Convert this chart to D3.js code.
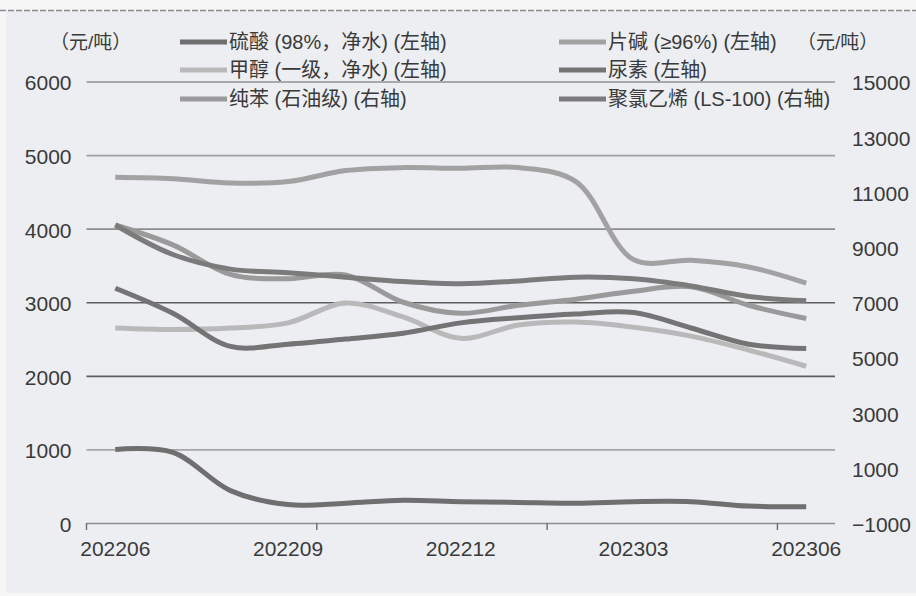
<!DOCTYPE html>
<html>
<head>
<meta charset="utf-8">
<script src="https://cdn.jsdelivr.net/npm/d3@7/dist/d3.min.js"></script>
<style>
  html, body { margin: 0; padding: 0; background: #ffffff; }
  svg { display: block; }
  text { font-family: "Liberation Sans", Arial, "Noto Sans CJK SC", sans-serif; fill: #3a3a3a; }
</style>
</head>
<body>
<svg id="chart" width="916" height="596"></svg>
<script>
// Monthly prices, 2022-06 to 2023-06 (元/吨)
const months = ["202206","202207","202208","202209","202210","202211","202212",
                "202301","202302","202303","202304","202305","202306"];
const monthTickLabels = ["202206","202209","202212","202303","202306"];

// left-axis series
const sulfuricAcid = [1000, 960, 440, 250, 270, 310, 290, 280, 270, 290, 290, 230, 220];
const methanol     = [2650, 2630, 2650, 2720, 2990, 2800, 2510, 2690, 2730, 2660, 2540, 2350, 2130];
const causticSoda  = [4700, 4680, 4620, 4640, 4790, 4830, 4820, 4830, 4640, 3580, 3570, 3480, 3260];
const urea         = [3190, 2850, 2400, 2430, 2500, 2580, 2720, 2790, 2840, 2860, 2650, 2430, 2370];
// right-axis series
const benzene      = [9800, 9080, 8010, 7850, 7990, 7000, 6600, 6890, 7110, 7400, 7560, 6890, 6410];
const pvc          = [9800, 8730, 8200, 8070, 7910, 7750, 7670, 7770, 7910, 7850, 7590, 7210, 7050];

const leftTicks  = [0, 1000, 2000, 3000, 4000, 5000, 6000];
const rightTicks = [-1000, 1000, 3000, 5000, 7000, 9000, 11000, 13000, 15000];

const seriesNames = [
  "硫酸 (98%，净水) (左轴)",
  "片碱 (≥96%) (左轴)",
  "甲醇 (一级，净水) (左轴)",
  "尿素 (左轴)",
  "纯苯 (石油级) (右轴)",
  "聚氯乙烯 (LS-100) (右轴)"
];
const seriesValues = [sulfuricAcid, causticSoda, methanol, urea, benzene, pvc];
const seriesAxis   = ["L", "L", "L", "L", "R", "R"];
const seriesColors = ["#6f6f6f", "#a2a2a2", "#b9b9b9", "#747474", "#9a9a9a", "#7b7b7b"];

// printed gridline shades, bottom to top
const gridShades = ["#8e8e8e", "#a6a6a6", "#5e5e5e", "#5e5e5e", "#8c8c8c", "#a0a0a0", "#909090"];

const svg = d3.select("#chart");

// page background
svg.append("rect").attr("x", 0).attr("y", 0).attr("width", 916).attr("height", 596).attr("fill", "#f6f6f7");
svg.append("rect").attr("x", 6).attr("y", 11).attr("width", 910).attr("height", 582)
   .attr("fill", "#eceef2");
svg.append("line").attr("x1", 0).attr("x2", 916).attr("y1", 10.5).attr("y2", 10.5)
   .attr("stroke", "#8a8a8a").attr("stroke-width", 1.5).attr("stroke-dasharray", "6,2");

const plotLeft = 86.5, plotRight = 835, plotTop = 81.5, plotBottom = 523;

const x = d3.scaleBand().domain(months).range([plotLeft, plotRight]).padding(0);
const cx = d => x(d) + x.bandwidth() / 2;
const yL = d3.scaleLinear().domain([0, 6000]).range([plotBottom, plotTop]);
const yR = d3.scaleLinear().domain([-1000, 15000]).range([plotBottom, plotTop]);

// left axis with gridlines
const gL = svg.append("g").attr("transform", `translate(${plotLeft},0)`)
  .call(d3.axisLeft(yL).tickValues(leftTicks).tickFormat(d3.format("d"))
        .tickSize(-(plotRight - plotLeft)).tickPadding(15));
gL.select(".domain").remove();
gL.selectAll(".tick line").attr("stroke", (d, i) => gridShades[i]).attr("stroke-width", 1.7);
gL.selectAll(".tick text").attr("font-size", 21).attr("fill", "#3a3a3a").attr("dy", "0.4em");

// right axis labels
const gR = svg.append("g").attr("transform", `translate(${plotRight},0)`)
  .call(d3.axisRight(yR).tickValues(rightTicks).tickFormat(d3.format("d"))
        .tickSize(0).tickPadding(17));
gR.select(".domain").remove();
gR.selectAll(".tick text").attr("font-size", 21).attr("fill", "#3a3a3a").attr("dy", "0.4em");

// bottom axis labels
const gX = svg.append("g").attr("transform", `translate(0,${plotBottom})`)
  .call(d3.axisBottom(x).tickValues(monthTickLabels).tickSize(0).tickPadding(18));
gX.select(".domain").remove();
gX.selectAll(".tick text").attr("font-size", 21).attr("fill", "#3a3a3a");

// small tick marks on the category boundaries
const boundaryIdx = [0, 4, 8, 12];
svg.append("g").selectAll("line").data(boundaryIdx).join("line")
  .attr("x1", i => x(months[i])).attr("x2", i => x(months[i]))
  .attr("y1", plotBottom).attr("y2", plotBottom + 7)
  .attr("stroke", "#6a6a6a").attr("stroke-width", 1.4);

// series lines
const lineL = d3.line().x((d, i) => cx(months[i])).y(d => yL(d)).curve(d3.curveCatmullRom.alpha(0.5));
const lineR = d3.line().x((d, i) => cx(months[i])).y(d => yR(d)).curve(d3.curveCatmullRom.alpha(0.5));

const drawOrder = [0, 2, 4, 1, 3, 5];
svg.append("g").selectAll("path").data(drawOrder).join("path")
  .attr("d", k => (seriesAxis[k] === "L" ? lineL : lineR)(seriesValues[k]))
  .attr("fill", "none")
  .attr("stroke", k => seriesColors[k])
  .attr("stroke-width", 5)
  .attr("stroke-linecap", "butt")
  .attr("stroke-linejoin", "round");

// unit labels
svg.append("text").attr("x", 50).attr("y", 42).attr("dy", "0.36em")
   .attr("font-size", 19).text("（元/吨）");
svg.append("text").attr("x", 797).attr("y", 42).attr("dy", "0.36em")
   .attr("font-size", 19).text("（元/吨）");

// legend
const legendCols = [180, 559];
const legendRows = [42, 70, 99];
const legend = svg.append("g");
seriesNames.forEach((name, k) => {
  const col = legendCols[k % 2], row = legendRows[Math.floor(k / 2)];
  legend.append("line")
    .attr("x1", col).attr("x2", col + 47).attr("y1", row).attr("y2", row)
    .attr("stroke", seriesColors[k]).attr("stroke-width", 5);
  legend.append("text").attr("x", col + 49).attr("y", row).attr("dy", "0.36em")
    .attr("font-size", 20).text(name);
});
</script>
</body>
</html>
